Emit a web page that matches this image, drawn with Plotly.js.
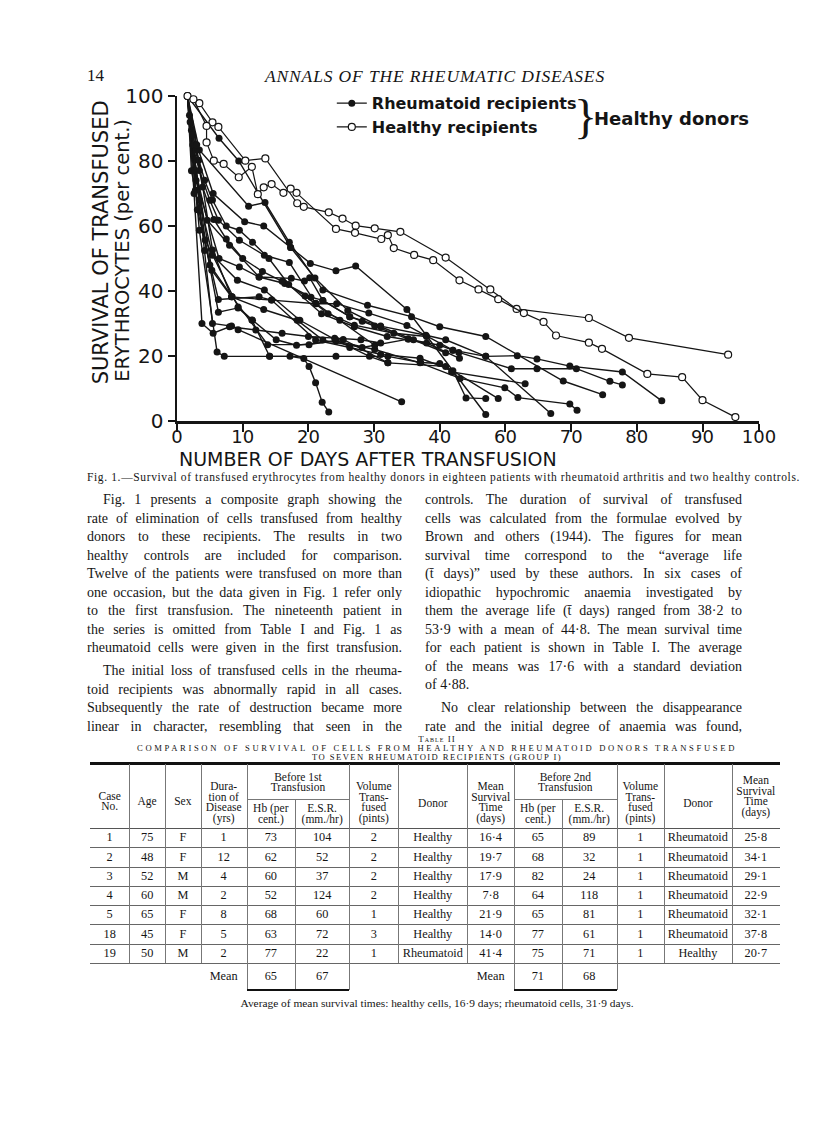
<!DOCTYPE html>
<html><head><meta charset="utf-8">
<script src="https://cdn.plot.ly/plotly-3.0.1.min.js"></script>
<style>
body{margin:0;width:816px;height:1125px;position:relative;background:#fff;overflow:hidden;font-family:"Liberation Serif","Times New Roman",serif;color:#151515}
#plot{position:absolute;left:0;top:0;width:816px;height:490px}
.t{position:absolute;white-space:nowrap}
.j{text-align:justify;text-align-last:justify}
.cell{position:absolute;display:flex;align-items:center;justify-content:center;text-align:center;font-size:12px;line-height:10.5px}
.hl{position:absolute;height:0;border-top:1px solid #666}
.vl{position:absolute;width:0;border-left:1px solid #777}
</style></head><body>
<div id="plot"></div>
<div id="page"></div>
<script>
// ---------- Figure data (x in printed-axis units, y in per cent surviving) ----------
const xTickVals = [0,10,20,30,40,50,60,70,80,88.6];
const xTickText = ['0','10','20','30','40','60','70','80','90','100'];
const yTickVals = [0,20,40,60,80,100];

const r01d=[1.6,2.8,6.3,9.3,11.4,14.1,17.2,19.3,20.1,21.1,22.1,23.1];
const r01p=[100,71,33.5,34.8,31.1,19.9,19.9,19.2,16.8,11.8,5.8,2.8];
const r02d=[1.6,4.2,5.4,8.3,9.3,34.2];
const r02p=[100,52.5,30,29.2,28.1,5.9];
const r03d=[1.6,3.4,6.1,7.2,14.1,24.2,32.1,37.1,40,41.8,53];
const r03p=[100,58.7,21.2,19.9,19.9,19.9,19.9,18,17.7,15.1,11.5];
const r04d=[1.6,6.4,9.4,17.3,20.3,24.2,27.2,35,47];
const r04p=[100,87,80,53.4,48.5,46.2,47.7,34.3,2];
const r05d=[1.6,3.4,10.9,13.4,17.1,22.2,29,35.7,40,47,58.8,64.8];
const r05p=[100,83.4,66.1,67.2,55,40.3,35.6,32.1,29,26,12.3,8.1];
const r06d=[1.6,2.9,6.4,9.5,12.5,16.4,20.4,22.2,26.3,31,37.9,40.9,47,51.8,54.8,59.8,67.8,73.8];
const r06p=[100,74,50,47.4,44.3,42.3,38.1,37.1,32.1,29.2,26.4,25,19.9,20.1,19.1,16.9,15.1,6.2];
const r07d=[1.6,2.7,5.3,8.3,13.2,18.3,22.2,28.2,35.2,40,42,42.9,50.9,54.8,60.8,65.9,67.8];
const r07p=[100,80.3,46.4,38.2,34.3,31,24.9,22.6,25.2,23.3,21.8,21.1,16.1,16.1,16.1,12.2,11.1];
const r08d=[1.6,2.5,4.3,9.3,11.5,15.1,18.2,24.2,30.1,37,43.1,49.9,51.9,59.8,60.9];
const r08p=[100,83.4,55.7,35.1,31,25,23.3,24.6,22,17.9,13.1,10.2,7.2,5.2,3.3];
const r09d=[1.6,3.1,6.3,12.5,14.4,21.1,26.3,31,37,42,44,47];
const r09p=[100,65,37.4,38.2,37.2,24.9,22.6,20.5,19.3,15.5,7.1,6.9];
const r10d=[1.6,2.2,5,8.4,13.8,20.1,25.3,32.1,40.9,48.9];
const r10p=[100,77,48,38.2,23.5,23.5,25.1,17.9,16.8,6.9];
const r11d=[1.6,3.3,5.4,8.3,14.4,21.2,24.3,29.2,35,42,47,56.9];
const r11p=[100,80.2,52.6,38.2,37.2,36.1,36.1,33.2,29.4,21.8,19.9,2.3];
const r12d=[1.6,2.2,3.4,5.4,9.2,13.3,18.7,24.2,29.3,32.1];
const r12p=[100,89.5,68,51,43.3,40.3,31,24.9,19.9,17.9];
const r13d=[1.6,1.9,2.8,4.6,8,12.5,17.4,19.4,20.2,22.2,26.3,28.2,30.1,35.2];
const r13p=[100,94.1,77.1,61.8,54.1,44.3,43.9,43.1,44.1,37.1,32.1,30.7,29.2,25.2];
const r14d=[1.6,2.4,3.4,5,6.3,9.5,13.3,17.1,21.1,24.8,30.1];
const r14p=[100,84.9,77.1,67.9,61.8,55.6,51,48.8,36.2,31,23.3];
const r15d=[1.6,2,2.9,4.2,5.4,7.5,9.5,11.5,14,17,22,27,32,38,43];
const r15p=[100,92,83.4,74.1,68,60,58.7,55,50,42,33,29,26,24,19.3];
const r16d=[1.6,2.4,3.9,5.6,7.5,10,13,16,19.5,23,27,33,38];
const r16p=[100,88,72,62,56,50,46,43,38.5,33,29.5,27,26];
const r17d=[1.6,3,5.5,10.3,13.2,17.3,21,26,31,36,40.9];
const r17p=[100,85,70,61.3,60,53.4,44,34,29,25,21];
const r18d=[1.6,2.6,3.8,5.5,8,12,16,20,24,28,31];
const r18p=[100,70,30,27,29,28,27,26,25.5,25,24];

const h01d=[1.6,3.4,5.4,6.3,10.4,13.45,18.3,19.3,23.1,25.2,27.2,30.1,34,40.9,47.7,51.7,62.7,68.8,83.9];
const h01p=[100,97.8,91.9,90.5,80.1,80.8,67,65.9,64.2,62.3,60.1,59.3,58.2,50.3,40.5,34.5,31.7,25.6,20.4];
const h02d=[2.5,4.5,4.5,5.6,7.1,9.4,11.4,12.3,13.2,14.4,16.2,17.3,18.2,24.2,27.1,31.1,32.1,33,36.1,39,43,45.9,48.9,52.8,55.8,57.7,62.7,64.7,71.6,76.9,80,85];
const h02p=[99,90.8,85.7,80.1,79.1,75,78.2,69.8,71.9,72.9,70.2,71.5,70.2,59.1,57.9,56,57.2,53.2,51.1,49.5,43.3,40.5,37.5,33.2,30.5,26.3,24.1,22.2,14.5,13.5,6.4,1.2];

const rheumSeries=[[r01d,r01p],[r02d,r02p],[r03d,r03p],[r04d,r04p],[r05d,r05p],[r06d,r06p],[r07d,r07p],[r08d,r08p],[r09d,r09p],[r10d,r10p],[r11d,r11p],[r12d,r12p],[r13d,r13p],[r14d,r14p],[r15d,r15p],[r16d,r16p],[r17d,r17p],[r18d,r18p]];
const healthySeries=[[h01d,h01p],[h02d,h02p]];

// ---------- Table II data ----------
const caseNo=['1','2','3','4','5','18','19'];
const age=['75','48','52','60','65','45','50'];
const sex=['F','F','M','M','F','F','M'];
const duration=['1','12','4','2','8','5','2'];
const hb1=['73','62','60','52','68','63','77'];
const esr1=['104','52','37','124','60','72','22'];
const vol1=['2','2','2','2','1','3','1'];
const donor1=['Healthy','Healthy','Healthy','Healthy','Healthy','Healthy','Rheumatoid'];
const mst1=['16·4','19·7','17·9','7·8','21·9','14·0','41·4'];
const hb2=['65','68','82','64','65','77','75'];
const esr2=['89','32','24','118','81','61','71'];
const vol2=['1','1','1','1','1','1','1'];
const donor2=['Rheumatoid','Rheumatoid','Rheumatoid','Rheumatoid','Rheumatoid','Rheumatoid','Healthy'];
const mst2=['25·8','34·1','29·1','22·9','32·1','37·8','20·7'];
const meanRow1=['65','67'];
const meanRow2=['71','68'];

// ---------- Plot ----------
const INK='#151515';
const SANS='DejaVu Sans, Lato, sans-serif';
const traces=[];
rheumSeries.forEach((s,i)=>traces.push({x:s[0],y:s[1],type:'scatter',mode:'lines+markers',
  name:'Rheumatoid recipients',legendgroup:'r',showlegend:i===0,cliponaxis:false,
  line:{color:INK,width:1.4},marker:{symbol:'circle',size:7,color:INK},hoverinfo:'skip'}));
healthySeries.forEach((s,i)=>traces.push({x:s[0],y:s[1],type:'scatter',mode:'lines+markers',
  name:'Healthy recipients',legendgroup:'h',showlegend:i===0,cliponaxis:false,
  line:{color:INK,width:1.2},marker:{symbol:'circle',size:7,color:'#fff',line:{color:INK,width:1.2}},hoverinfo:'skip'}));

const layout={
  width:816,height:490,
  margin:{l:177,r:57,t:96,b:69,pad:0},
  paper_bgcolor:'rgba(0,0,0,0)',plot_bgcolor:'rgba(0,0,0,0)',
  showlegend:true,
  legend:{x:0.266,y:1.03,xanchor:'left',yanchor:'top',traceorder:'normal',
    font:{family:SANS,size:16,color:INK,weight:'bold'},bgcolor:'rgba(0,0,0,0)',itemwidth:30,tracegroupgap:0},
  xaxis:{range:[0,88.6],tickvals:xTickVals,ticktext:xTickText,showgrid:false,zeroline:false,
    showline:true,linecolor:INK,linewidth:2.5,ticks:'outside',ticklen:8,tickwidth:2,tickcolor:INK,
    ticklabelstandoff:-10,
    tickfont:{family:SANS,size:18,color:INK},fixedrange:true},
  yaxis:{range:[0,100],tickvals:yTickVals,showgrid:false,zeroline:false,
    showline:true,linecolor:INK,linewidth:2.5,ticks:'outside',ticklen:7,tickwidth:2,tickcolor:INK,
    tickfont:{family:SANS,size:20,color:INK},fixedrange:true},
  annotations:[
    {text:'NUMBER OF DAYS AFTER TRANSFUSION',xref:'paper',yref:'paper',x:0,y:-0.118,xanchor:'left',yanchor:'middle',
      showarrow:false,font:{family:SANS,size:19,color:INK}},
    {text:'SURVIVAL OF TRANSFUSED',xref:'paper',yref:'paper',x:-0.131,y:0.549,
      xanchor:'center',yanchor:'middle',textangle:-90,showarrow:false,font:{family:SANS,size:21,color:INK}},
    {text:'ERYTHROCYTES (per cent.)',xref:'paper',yref:'paper',x:-0.095,y:0.526,
      xanchor:'center',yanchor:'middle',textangle:-90,showarrow:false,font:{family:SANS,size:19.5,color:INK}},
    {text:'}',xref:'paper',yref:'paper',x:0.702,y:0.938,xanchor:'center',yanchor:'middle',showarrow:false,
      font:{family:'Liberation Serif, serif',size:48,color:INK}},
    {text:'Healthy donors',xref:'paper',yref:'paper',x:0.713,y:0.93,xanchor:'left',yanchor:'middle',showarrow:false,
      font:{family:SANS,size:18,color:INK,weight:'bold'}}
  ]
};
Plotly.newPlot('plot',traces,layout,{staticPlot:true,displayModeBar:false});

// ---------- Page text ----------
const page=document.getElementById('page');
function txt(s,x,y,opt){
  opt=opt||{};
  const d=document.createElement('div');
  d.className='t'+(opt.justify?' j':'');
  d.style.left=x+'px';
  const fs=opt.size||14, lh=opt.lh||fs*1.2;
  d.style.top=(y-lh/2)+'px';
  d.style.fontSize=fs+'px';d.style.lineHeight=lh+'px';
  if(opt.w){d.style.width=opt.w+'px';}
  if(opt.italic)d.style.fontStyle='italic';
  if(opt.center){d.style.transform='translateX(-50%)';}
  if(opt.sc){d.style.fontVariant='small-caps';}
  if(opt.ls)d.style.letterSpacing=opt.ls+'px';
  d.innerHTML=s;page.appendChild(d);
  if(opt.fit){ // spread letters so the line spans the given width
    const n=d.textContent.length;const w=d.getBoundingClientRect().width;
    d.style.letterSpacing=((opt.fit-w)/n)+'px';
  }
  return d;
}
txt('14',87,76,{size:17});
txt('ANNALS OF THE RHEUMATIC DISEASES',435,76,{size:17.5,italic:true,center:true,fit:340});
txt('Fig. 1.—Survival of transfused erythrocytes from healthy donors in eighteen patients with rheumatoid arthritis and two healthy controls.',87,478,{size:11.5,fit:713});

const leftLines=[
 ['Fig. 1 presents a composite graph showing the',500,true,16],
 ['rate of elimination of cells transfused from healthy',519,true,0],
 ['donors to these recipients. The results in two',537,true,0],
 ['healthy controls are included for comparison.',556,true,0],
 ['Twelve of the patients were transfused on more than',574,true,0],
 ['one occasion, but the data given in Fig. 1 refer only',593,true,0],
 ['to the first transfusion. The nineteenth patient in',611,true,0],
 ['the series is omitted from Table I and Fig. 1 as',630,true,0],
 ['rheumatoid cells were given in the first transfusion.',648,true,0],
 ['The initial loss of transfused cells in the rheuma-',671,true,16],
 ['toid recipients was abnormally rapid in all cases.',690,true,0],
 ['Subsequently the rate of destruction became more',708,true,0],
 ['linear in character, resembling that seen in the',727,true,0]];
leftLines.forEach(l=>txt(l[0],87+l[3],l[1],{justify:l[2],w:315-l[3],size:14,lh:16}));
const rightLines=[
 ['controls. The duration of survival of transfused',500,true,0],
 ['cells was calculated from the formulae evolved by',519,true,0],
 ['Brown and others (1944). The figures for mean',537,true,0],
 ['survival time correspond to the \u201caverage life',556,true,0],
 ['(t\u0304 days)\u201d used by these authors. In six cases of',574,true,0],
 ['idiopathic hypochromic anaemia investigated by',593,true,0],
 ['them the average life (t\u0304 days) ranged from 38·2 to',611,true,0],
 ['53·9 with a mean of 44·8. The mean survival time',630,true,0],
 ['for each patient is shown in Table I. The average',648,true,0],
 ['of the means was 17·6 with a standard deviation',667,true,0],
 ['of 4·88.',685,false,0],
 ['No clear relationship between the disappearance',708,true,16],
 ['rate and the initial degree of anaemia was found,',727,true,0]];
rightLines.forEach(l=>txt(l[0],425+l[3],l[1],{justify:l[2],w:317-l[3],size:14,lh:16}));

// Table title
txt('Table II',437,738.8,{size:9,center:true,sc:true,ls:1,lh:8.5});
txt('COMPARISON OF SURVIVAL OF CELLS FROM HEALTHY AND RHEUMATOID DONORS TRANSFUSED',437,748,{size:8.6,center:true,fit:600,lh:8.5});
txt('TO SEVEN RHEUMATOID RECIPIENTS (GROUP I)',437,757.2,{size:8.6,center:true,fit:250,lh:8.5});

// ---------- Table geometry ----------
const B=[90,129.3,165,200.7,246.7,295,349.3,398.3,467.3,514,561.7,616.7,664,731.7,780];
const yTop=763, ySub=799, yHead=828, rowH=19.28, yMeanB=990;
function hline(x0,x1,y,w,c){const d=document.createElement('div');d.className='hl';d.style.left=x0+'px';d.style.width=(x1-x0)+'px';d.style.top=y+'px';if(w){d.style.borderTopWidth=w+'px';}if(c)d.style.borderTopColor=c;page.appendChild(d);}
function vline(x,y0,y1){const d=document.createElement('div');d.className='vl';d.style.left=x+'px';d.style.top=y0+'px';d.style.height=(y1-y0)+'px';page.appendChild(d);}
function cell(c0,c1,y0,y1,html,opt){opt=opt||{};const d=document.createElement('div');d.className='cell';
  d.style.left=B[c0]+'px';d.style.width=(B[c1]-B[c0])+'px';d.style.top=y0+'px';d.style.height=(y1-y0)+'px';
  if(opt.size)d.style.fontSize=opt.size+'px';
  d.innerHTML=html;page.appendChild(d);}

hline(B[0],B[14],yTop-1.5,3,'#111');
// headers
const hs=11.5;
cell(0,1,770,832,'Case<br>No.',{size:hs});
cell(1,2,770,832,'Age',{size:hs});
cell(2,3,770,832,'Sex',{size:hs});
cell(3,4,772,832,'Dura-<br>tion of<br>Disease<br>(yrs)',{size:hs});
cell(4,6,765,799,'Before 1st<br>Transfusion',{size:hs});
cell(4,5,799,828,'Hb (per<br>cent.)',{size:hs});
cell(5,6,799,828,'E.S.R.<br>(mm./hr)',{size:hs});
cell(6,7,772,832,'Volume<br>Trans-<br>fused<br>(pints)',{size:hs});
cell(7,8,770,836,'Donor',{size:hs});
cell(8,9,772,832,'Mean<br>Survival<br>Time<br>(days)',{size:hs});
cell(9,11,765,799,'Before 2nd<br>Transfusion',{size:hs});
cell(9,10,799,828,'Hb (per<br>cent.)',{size:hs});
cell(10,11,799,828,'E.S.R.<br>(mm./hr)',{size:hs});
cell(11,12,772,832,'Volume<br>Trans-<br>fused<br>(pints)',{size:hs});
cell(12,13,770,836,'Donor',{size:hs});
cell(13,14,766,826,'Mean<br>Survival<br>Time<br>(days)',{size:hs});
hline(B[4],B[6],ySub,1,'#777');hline(B[9],B[11],ySub,1,'#777');
hline(B[0],B[14],yHead,1,'#555');
// body
const cols=[caseNo,age,sex,duration,hb1,esr1,vol1,donor1,mst1,hb2,esr2,vol2,donor2,mst2];
for(let r=0;r<caseNo.length;r++){
  const y0=yHead+r*rowH,y1=y0+rowH;
  cols.forEach((col,c)=>cell(c,c+1,y0,y1,col[r],{size:12.3}));
  hline(B[0],B[14],y1,1,'#666');
}
const yBody=yHead+caseNo.length*rowH;
for(let i=1;i<14;i++){
  const top=(i===5||i===10)?ySub:yTop+1;
  vline(B[i],top,yBody);
}
// mean row
cell(3,4,yBody,yMeanB,'Mean',{size:12.3});
cell(4,5,yBody,yMeanB,meanRow1[0],{size:12.3});
cell(5,6,yBody,yMeanB,meanRow1[1],{size:12.3});
cell(8,9,yBody,yMeanB,'Mean',{size:12.3});
cell(9,10,yBody,yMeanB,meanRow2[0],{size:12.3});
cell(10,11,yBody,yMeanB,meanRow2[1],{size:12.3});
[4,5,6,9,10,11].forEach(i=>vline(B[i],yBody,yMeanB));
hline(B[4],B[6],yMeanB-1,2.5,'#111');hline(B[9],B[11],yMeanB-1,2.5,'#111');
txt('Average of mean survival times: healthy cells, 16·9 days; rheumatoid cells, 31·9 days.',437,1004,{size:11.4,center:true});
</script>
</body></html>
